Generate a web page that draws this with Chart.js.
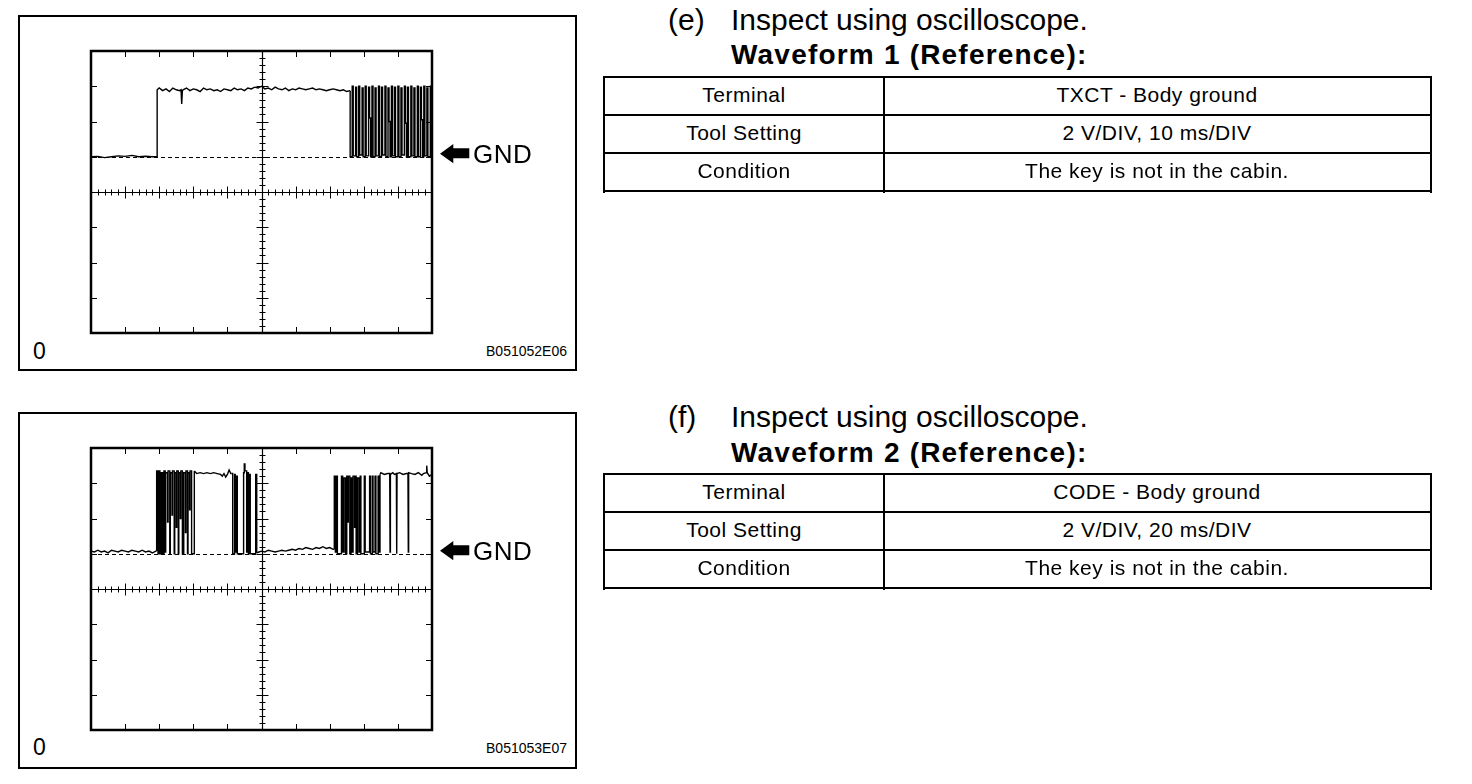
<!DOCTYPE html>
<html><head><meta charset="utf-8">
<script src="https://cdn.jsdelivr.net/npm/chart.js@4.4.0/dist/chart.umd.min.js"></script>
<style>
html,body{margin:0;padding:0;background:#fff;}
body{width:1472px;height:784px;position:relative;overflow:hidden;font-family:"Liberation Sans",Arial,Helvetica,sans-serif;color:#000;}
.panel{position:absolute;left:18px;width:559px;border:2px solid #000;box-sizing:border-box;}
.hl{position:absolute;height:2px;background:#000;left:603px;width:829px;}
.vl{position:absolute;width:2px;background:#000;height:117px;}
.cell{position:absolute;display:flex;align-items:center;justify-content:center;font-size:21px;letter-spacing:0.5px;white-space:nowrap;height:36px;}
.c1{left:605px;width:278px;}
.c2{left:885px;width:544px;}
.h1{position:absolute;font-size:30px;line-height:30px;white-space:nowrap;}
.h2{position:absolute;left:731px;font-size:28px;line-height:28px;font-weight:bold;letter-spacing:1.2px;white-space:nowrap;}
.zero{position:absolute;left:33px;font-size:23px;line-height:23px;}
.code{position:absolute;right:905px;font-size:14px;line-height:14px;white-space:nowrap;}
.gnd{position:absolute;left:473px;font-size:26px;line-height:26px;letter-spacing:0.5px;}
.arrow{position:absolute;left:440px;}
canvas{position:absolute;}
</style></head>
<body>
<script>
// ===== Waveform 1: TXCT, 10 ms/DIV (time in ms, volts relative to GND) =====
// slowly varying parts of the trace
const wave1SmoothTime = [0,2,4,6,8,10,12,14,16,18,19.4,19.4,20,21,22,23,24,25,26,26.4,26.6,26.8,
 27,28,29,30,31,32,33,34,35,36,37,38,39,40,41,42,43,44,45,46,47,48,49,50,51,
 52,53,54,55,56,57,58,59,60,61,62,63,64,65,66,67,68,69,70,71,72,73,74,75,76];
const wave1SmoothVolt = [0,0.02,-0.05,0,0.05,0.02,0.08,0,0.03,0,0,3.8,3.9,3.75,3.85,3.7,3.9,3.8,3.75,3.8,3.0,3.75,
 3.8,3.9,3.75,3.85,3.8,3.7,3.9,3.8,3.85,3.75,3.8,3.7,3.85,3.8,3.75,3.9,3.8,3.85,3.75,3.9,3.85,3.95,3.9,4.0,3.85,
 3.9,3.8,3.95,3.85,3.8,3.9,3.75,3.85,3.8,3.9,3.85,3.8,3.85,3.9,3.8,3.85,3.8,3.75,3.8,3.85,3.8,3.75,3.8,3.7,3.75];
// pulse burst (level changes to value at time)
const wave1PulseTime = [76,76.0,76.6,76.9,77.6,77.9,78.5,78.8,79.5,79.8,80.4,
 80.7,81.4,81.7,82.0,82.4,82.7,83.3,83.6,84.3,84.6,
 85.2,85.5,86.2,86.5,87.1,87.4,87.7,88.1,88.4,89.0,
 89.3,90.0,90.3,90.9,91.2,91.9,92.2,92.5,92.8,93.1,
 93.8,94.1,94.7,95.0,95.7,96.0,96.6,96.9,97.2,97.6,
 97.9,98.5,98.8,99.5,99.8,100];
const wave1PulseVolt = [3.75,0.0,4.0,0.05,3.95,0.0,4.0,0.1,3.9,0.0,4.0,
 0.05,3.95,2.2,0.0,4.0,0.0,3.9,0.05,4.0,0.0,
 3.95,0.1,4.0,0.0,3.9,2.0,0.0,4.0,0.05,3.95,
 0.0,4.0,0.0,3.9,0.1,4.0,1.9,0.0,3.95,0.0,
 4.0,0.05,3.9,0.0,4.0,0.0,3.95,2.1,0.0,4.0,
 0.05,3.9,0.0,4.0,0.0,3.9];

// ===== Waveform 2: CODE, 20 ms/DIV (null volt = break between segments) =====
const wave2SmoothTime = [0,2,4,6,8,10,12,14,16,18,20,22,24,26,28,30,32,34,36,38,38.5, 38.5,
 60.6,62,64,66,68,70,72,74,76,77,78,79,80,81,82,82.5, 82.5,
 97.2,98.5,100,102,104,106,108,110,112,114,116,118,120,122,124,126,128,130,132,134,136,138,140,142,142.7, 142.7,
 169.5,170,172,174,175.2,175.4,175.6,177,178,179.1,179.3,179.5,181,183,185,185.9,186.1,186.3,188,190,192,194,195,196.6,196.9,197.2,198.5,200];
const wave2SmoothVolt = [0.15,0.1,0.2,0.1,0.15,0.05,0.2,0.15,0.1,0.2,0.15,0.1,0.2,0.15,0.1,0.2,0.1,0.15,0.05,0.15,0.15, null,
 4.7,4.55,4.6,4.55,4.6,4.55,4.6,4.55,4.5,4.4,4.55,4.35,4.5,4.75,4.55,4.55, null,
 0.05,0.1,0.15,0.1,0.2,0.15,0.1,0.15,0.2,0.15,0.2,0.25,0.2,0.3,0.25,0.35,0.3,0.25,0.35,0.3,0.4,0.3,0.35,0.25,0.25, null,
 4.5,4.6,4.5,4.55,4.55,0.1,4.5,4.6,4.5,4.55,0.0,4.55,4.6,4.5,4.55,4.55,0.1,4.6,4.55,4.5,4.6,4.45,4.55,4.6,5.0,4.6,4.4,4.5];
const wave2PulseTime = [38.5,38.5,39.3,39.6,40.4,41.2,42.0,42.8,43.5,43.8,44.9,45.2,46.2,46.5,47.5,47.8,
 48.8,49.1,50.0,50.3,51.2,51.5,52.4,52.7,53.6,54.4,55.4,55.7,56.6,56.9,57.8,58.1,59.0,60.6, 60.6,
 82.5,83.1,84.2,84.6,85.4,85.8,89.5,89.9,90.3,91.3,91.8,92.3,93.0,93.4,96.6,97.2, 97.2,
 142.7,142.7,143.3,144.0,144.5,146.9,147.6,148.4,149.3,150.0,150.4,150.9,151.8,152.5,152.9,153.7,
 154.6,155.1,155.5,156.3,157.2,157.9,158.3,160.3,160.8,163.4,163.9,165.0,165.4,166.6,167.1,168.4,168.9,169.5];
const wave2PulseVolt = [0.15,4.7,0.0,4.7,0.0,4.6,0.0,4.7,0.1,4.6,1.8,4.7,0.0,4.6,2.2,4.7,
 0.0,4.6,1.5,4.7,0.0,4.6,2.0,4.7,0.0,4.6,1.2,4.7,0.0,4.6,2.5,4.7,0.0,4.7, null,
 4.55,0.0,4.5,0.1,4.4,0.0,4.6,5.1,4.7,0.1,4.6,0.0,4.5,0.0,4.5,0.05, null,
 0.25,4.4,0.1,4.4,0.0,4.4,0.1,4.3,0.0,4.4,1.8,4.4,0.0,4.3,0.1,4.4,
 1.5,4.4,0.0,4.3,0.1,4.4,0.0,4.4,0.1,4.4,0.0,4.4,0.1,4.4,0.0,4.4,0.1,4.5];

// ===== screen divisions (graticule) =====
const wave1XDivs = [0,10,20,30,40,50,60,70,80,90,100];     // ms, 10 ms/DIV
const wave2XDivs = [0,20,40,60,80,100,120,140,160,180,200]; // ms, 20 ms/DIV
const yDivs = [6,4,2,0,-2,-4,-6,-8,-10];                    // V, 2 V/DIV
const gndLevel = 0;
</script>

<div class="panel" style="top:15px;height:356px;"></div>
<div class="panel" style="top:412px;height:357px;"></div>

<canvas id="c1" width="361" height="302" style="left:81px;top:41px;width:361px;height:302px;"></canvas>
<canvas id="c2" width="361" height="302" style="left:81px;top:438px;width:361px;height:302px;"></canvas>

<svg class="arrow" style="top:144px" width="30" height="20"><polygon points="0,9.7 13.3,0 13.3,4.3 29.3,4.3 29.3,14.3 13.3,14.3 13.3,19.3" fill="#000"/></svg>
<div class="gnd" style="top:141px">GND</div>
<svg class="arrow" style="top:541px" width="30" height="20"><polygon points="0,9.7 13.3,0 13.3,4.3 29.3,4.3 29.3,14.3 13.3,14.3 13.3,19.3" fill="#000"/></svg>
<div class="gnd" style="top:538px">GND</div>

<div class="zero" style="top:340px">0</div>
<div class="code" style="top:344px">B051052E06</div>
<div class="zero" style="top:736px">0</div>
<div class="code" style="top:741px">B051053E07</div>

<!-- section (e) -->
<div class="h1" style="left:668px;top:5px">(e)</div>
<div class="h1" style="left:731px;top:5px">Inspect using oscilloscope.</div>
<div class="h2" style="top:41px">Waveform 1 (Reference):</div>
<div class="hl" style="top:76px"></div>
<div class="hl" style="top:114px"></div>
<div class="hl" style="top:152px"></div>
<div class="hl" style="top:190px"></div>
<div class="vl" style="left:603px;top:76px"></div>
<div class="vl" style="left:883px;top:76px"></div>
<div class="vl" style="left:1430px;top:76px"></div>
<div class="cell c1" style="top:77px">Terminal</div>
<div class="cell c2" style="top:77px">TXCT - Body ground</div>
<div class="cell c1" style="top:115px">Tool Setting</div>
<div class="cell c2" style="top:115px">2 V/DIV, 10 ms/DIV</div>
<div class="cell c1" style="top:153px">Condition</div>
<div class="cell c2" style="top:153px">The key is not in the cabin.</div>

<!-- section (f) -->
<div class="h1" style="left:668px;top:402px">(f)</div>
<div class="h1" style="left:731px;top:402px">Inspect using oscilloscope.</div>
<div class="h2" style="top:439px">Waveform 2 (Reference):</div>
<div class="hl" style="top:473px"></div>
<div class="hl" style="top:511px"></div>
<div class="hl" style="top:549px"></div>
<div class="hl" style="top:587px"></div>
<div class="vl" style="left:603px;top:473px"></div>
<div class="vl" style="left:883px;top:473px"></div>
<div class="vl" style="left:1430px;top:473px"></div>
<div class="cell c1" style="top:474px">Terminal</div>
<div class="cell c2" style="top:474px">CODE - Body ground</div>
<div class="cell c1" style="top:512px">Tool Setting</div>
<div class="cell c2" style="top:512px">2 V/DIV, 20 ms/DIV</div>
<div class="cell c1" style="top:550px">Condition</div>
<div class="cell c2" style="top:550px">The key is not in the cabin.</div>

<script>
const scopeGraticule = {
  id: 'scopeGraticule',
  beforeDatasetsDraw(chart, args, opts) {
    const {ctx, chartArea: a, scales: {x, y}} = chart;
    const xd = opts.xDivs, yd = opts.yDivs;
    const px = v => Math.round(x.getPixelForValue(v)) + 0.5;
    const py = v => Math.round(y.getPixelForValue(v)) + 0.5;
    const xc = px(xd[(xd.length - 1) / 2]);
    const yc = py(yd[(yd.length - 1) / 2]);
    ctx.save();
    ctx.strokeStyle = '#000';
    // GND dashed reference
    ctx.lineWidth = 1.2;
    ctx.setLineDash([4, 3]);
    ctx.beginPath();
    const g = py(opts.gnd);
    ctx.moveTo(a.left, g); ctx.lineTo(a.right, g);
    ctx.stroke();
    ctx.setLineDash([]);
    // centre axes
    ctx.lineWidth = 1.2;
    ctx.beginPath();
    ctx.moveTo(a.left, yc); ctx.lineTo(a.right, yc);
    ctx.moveTo(xc, a.top); ctx.lineTo(xc, a.bottom);
    ctx.stroke();
    ctx.lineWidth = 1;
    ctx.beginPath();
    for (let i = 0; i < xd.length - 1; i++) {
      for (let k = 0; k < 5; k++) {
        const p = px(xd[i] + (xd[i + 1] - xd[i]) * k / 5);
        if (k === 0) {
          if (i === 0) continue;
          ctx.moveTo(p, yc - 6); ctx.lineTo(p, yc + 6);
          ctx.moveTo(p, a.top); ctx.lineTo(p, a.top + 6);
          ctx.moveTo(p, a.bottom); ctx.lineTo(p, a.bottom - 6);
        } else {
          ctx.moveTo(p, yc - 3); ctx.lineTo(p, yc + 3);
        }
      }
    }
    for (let i = 0; i < yd.length - 1; i++) {
      for (let k = 0; k < 5; k++) {
        const p = py(yd[i] + (yd[i + 1] - yd[i]) * k / 5);
        if (k === 0) {
          if (i === 0) continue;
          ctx.moveTo(xc - 6, p); ctx.lineTo(xc + 6, p);
          ctx.moveTo(a.left, p); ctx.lineTo(a.left + 6, p);
          ctx.moveTo(a.right, p); ctx.lineTo(a.right - 6, p);
        } else {
          ctx.moveTo(xc - 3, p); ctx.lineTo(xc + 3, p);
        }
      }
    }
    ctx.stroke();
    ctx.restore();
  },
  afterDatasetsDraw(chart) {
    const {ctx, chartArea: a} = chart;
    ctx.save();
    ctx.strokeStyle = '#000';
    ctx.lineWidth = 2.5;
    ctx.strokeRect(a.left, a.top, a.right - a.left, a.bottom - a.top);
    ctx.restore();
  }
};

const toPoints = (times, volts) => times.map((t, i) => ({x: t, y: volts[i]}));
const traceStyle = {borderColor: '#000', borderWidth: 1.4, pointRadius: 0, fill: false, spanGaps: false};

function makeScope(id, smoothT, smoothV, pulseT, pulseV, xDivs) {
  return new Chart(document.getElementById(id), {
    type: 'line',
    data: {
      datasets: [
        Object.assign({data: toPoints(smoothT, smoothV), stepped: false}, traceStyle),
        Object.assign({data: toPoints(pulseT, pulseV), stepped: true}, traceStyle)
      ]
    },
    options: {
      responsive: false,
      animation: false,
      devicePixelRatio: 1,
      events: [],
      layout: {padding: 10},
      plugins: {
        legend: {display: false},
        tooltip: {enabled: false},
        scopeGraticule: {xDivs: xDivs, yDivs: yDivs, gnd: gndLevel}
      },
      scales: {
        x: {type: 'linear', min: xDivs[0], max: xDivs[xDivs.length - 1], display: false},
        y: {type: 'linear', min: yDivs[yDivs.length - 1], max: yDivs[0], display: false}
      }
    },
    plugins: [scopeGraticule]
  });
}
makeScope('c1', wave1SmoothTime, wave1SmoothVolt, wave1PulseTime, wave1PulseVolt, wave1XDivs);
makeScope('c2', wave2SmoothTime, wave2SmoothVolt, wave2PulseTime, wave2PulseVolt, wave2XDivs);
</script>
</body></html>
